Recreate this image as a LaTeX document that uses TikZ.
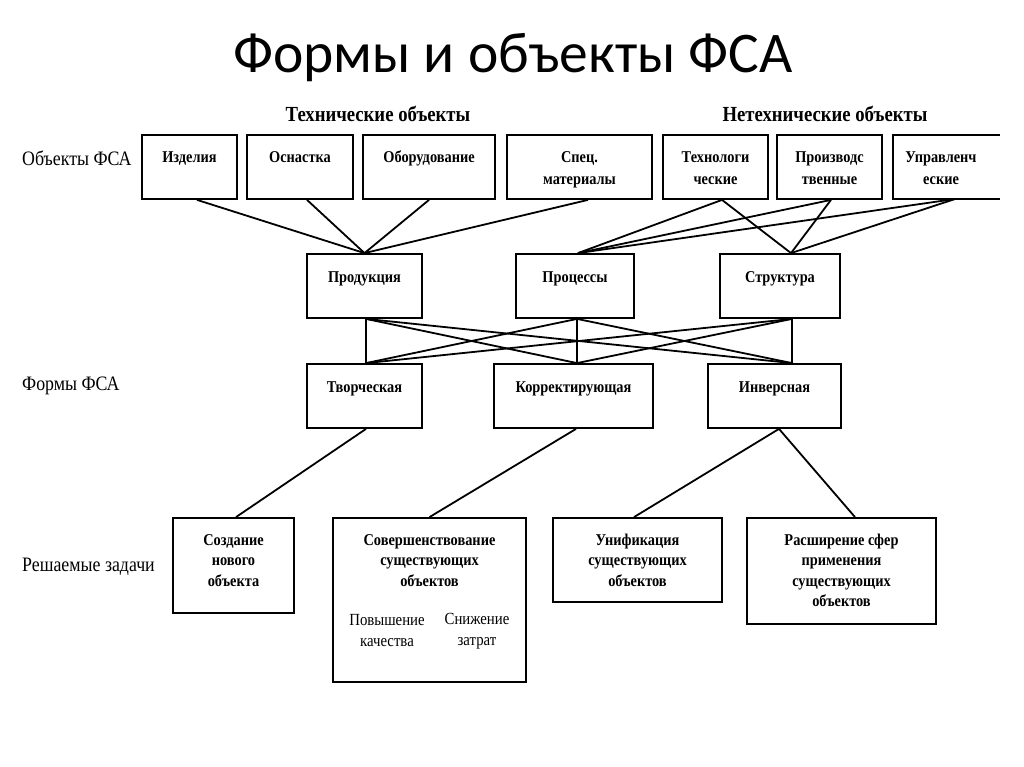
\documentclass[tikz,border=0pt]{standalone}
\usepackage{fontspec}
\setmainfont[FakeStretch=0.87]{Liberation Serif}
\newfontfamily\titlefont{Carlito}
\tikzset{
    box/.style={draw,line width=1.8pt,inner sep=0pt,align=center,
        font=\bfseries\fontsize{16.5}{22}\selectfont,text height=28pt,text depth=36pt},
    box2/.style={box,text height=50pt,text depth=14pt},
    tbox/.style={box,font=\bfseries\fontsize{16.5}{20.5}\selectfont,text height=68pt},
    side/.style={anchor=west,inner sep=0pt,font=\fontsize{20.5}{24}\selectfont},
    head/.style={inner sep=0pt,font=\bfseries\fontsize{21.5}{26}\selectfont},
    sub/.style={inner sep=0pt,align=center,font=\fontsize{17}{21}\selectfont},
    link/.style={line width=1.8pt},
}

\begin{document}
\begin{tikzpicture}[x=1pt,y=-1pt]
    \useasboundingbox (0,0) rectangle (1024,767);
    \node[inner sep=0pt,anchor=base,font=\titlefont\fontsize{57.5}{60}\selectfont] (title) at (513,73) {Формы и объекты ФСА};
    \node[head] (techh) at (378,114) {Технические объекты};
    \node[head] (ntechh) at (825,114) {Нетехнические объекты};
    \node[side] (objl) at (22,158) {Объекты ФСА};
    \node[side] (forml) at (22,386) {Формы ФСА};
    \node[side] (taskl) at (22,567) {Решаемые задачи};
    % objects
    \node[box,minimum width=95pt] (izd) at (189.5,167) {Изделия};
    \node[box,minimum width=106pt] (osn) at (300,167) {Оснастка};
    \node[box,minimum width=132pt] (obo) at (429,167) {Оборудование};
    \node[box2,minimum width=145pt] (spec) at (579.5,167) {Спец.\\материалы};
    \node[box2,minimum width=105pt] (tech) at (715.5,167) {Технологи\\ческие};
    \node[box2,minimum width=105pt] (proizv) at (829.5,167) {Производс\\твенные};
    \node[box2,draw=none,outer sep=0pt,minimum width=96pt] (upr) at (941,167) {Управленч\\еские};
    \draw[link] ([xshift=11pt]upr.north east) -| (upr.south west) -- ([xshift=11pt]upr.south east);
    \node[box,minimum width=115pt] (prod) at (364.5,286) {Продукция};
    \node[box,minimum width=118pt] (proc) at (575,286) {Процессы};
    \node[box,minimum width=120pt] (str) at (780,286) {Структура};
    % forms
    \node[box,minimum width=115pt] (tvor) at (364.5,396) {Творческая};
    \node[box,minimum width=159pt] (korr) at (573.5,396) {Корректирующая};
    \node[box,minimum width=133pt] (inv) at (774.5,396) {Инверсная};
    % tasks
    \node[tbox,minimum width=121pt,text depth=27pt] (sozd) at (233.5,565.5) {Создание\\нового\\объекта};
    \node[tbox,minimum width=193pt,text depth=96pt] (sov) at (429.5,600) {Совершенствование\\существующих\\объектов};
    \node[sub] (kach) at (387,631) {Повышение\\качества};
    \node[sub] (zatr) at (477,631) {Снижение\\затрат};
    \node[tbox,minimum width=169pt,text depth=16pt] (unif) at (637.5,560) {Унификация\\существующих\\объектов};
    \node[tbox,minimum width=189pt,text height=88.5pt,text depth=17.5pt] (rassh) at (841.5,571) {Расширение сфер\\применения\\существующих\\объектов};
    % attach points
    \coordinate (izdS) at ([xshift=7.5pt]izd.south);
    \coordinate (osnS) at ([xshift=7pt]osn.south);
    \coordinate (oboS) at (obo.south);
    \coordinate (specS) at ([xshift=8.5pt]spec.south);
    \coordinate (techS) at ([xshift=6.5pt]tech.south);
    \coordinate (proizvS) at ([xshift=1.5pt]proizv.south);
    \coordinate (uprS) at ([xshift=14pt]upr.south);
    \coordinate (prodN) at (prod.north);
    \coordinate (procN) at ([xshift=3pt]proc.north);
    \coordinate (strN) at ([xshift=11pt]str.north);
    \coordinate (prodS) at ([xshift=1.5pt]prod.south);
    \coordinate (procS) at ([xshift=2pt]proc.south);
    \coordinate (strS) at ([xshift=12pt]str.south);
    \coordinate (tvorN) at ([xshift=1.5pt]tvor.north);
    \coordinate (korrN) at ([xshift=3.5pt]korr.north);
    \coordinate (invN) at ([xshift=17.5pt]inv.north);
    \foreach \a in {izdS,osnS,oboS,specS}
        \draw[link] (\a) -- (prodN);
    \foreach \a in {techS,proizvS,uprS} {
        \draw[link] (\a) -- (procN);
        \draw[link] (\a) -- (strN);
    }
    \foreach \a in {prodS,procS,strS}
        \foreach \b in {tvorN,korrN,invN}
            \draw[link] (\a) -- (\b);
    \draw[link] ([xshift=1.5pt]tvor.south) -- ([xshift=2.5pt]sozd.north);
    \draw[link] ([xshift=2.5pt]korr.south) -- (sov.north);
    \draw[link] ([xshift=4.5pt]inv.south) -- ([xshift=-3.5pt]unif.north);
    \draw[link] ([xshift=4.5pt]inv.south) -- ([xshift=13.5pt]rassh.north);
\end{tikzpicture}
\end{document}
